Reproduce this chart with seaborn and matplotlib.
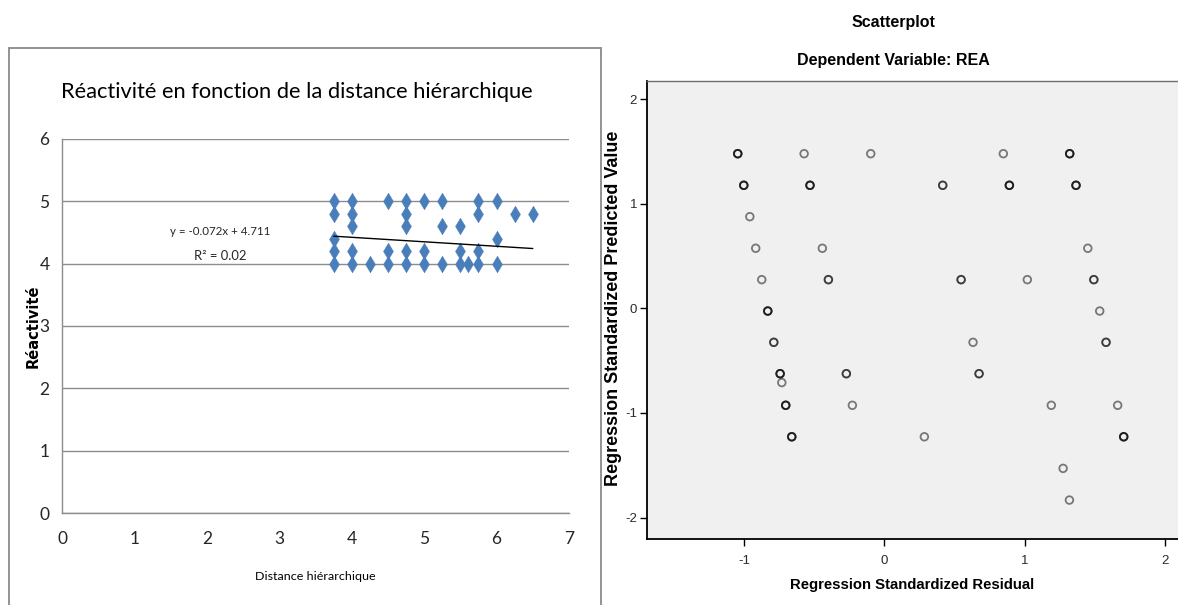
import numpy as np
import pandas as pd
import matplotlib
matplotlib.use("Agg")
import matplotlib.pyplot as plt
from matplotlib.patches import Rectangle
import seaborn as sns

# ---- Left chart: Réactivité vs distance hiérarchique ----
distance = [3.75, 4.0, 4.5, 4.75, 5.0, 5.25, 5.75, 6.0,
            3.75, 4.0, 4.75, 5.75, 6.25, 6.5,
            4.0, 4.75, 5.25, 5.5,
            3.75, 6.0,
            3.75, 4.0, 4.5, 4.75, 5.0, 5.5, 5.75,
            3.75, 4.0, 4.25, 4.5, 4.75, 5.0, 5.25, 5.5, 5.6, 5.75, 6.0]
reactivite = [5.0, 5.0, 5.0, 5.0, 5.0, 5.0, 5.0, 5.0,
              4.8, 4.8, 4.8, 4.8, 4.8, 4.8,
              4.6, 4.6, 4.6, 4.6,
              4.4, 4.4,
              4.2, 4.2, 4.2, 4.2, 4.2, 4.2, 4.2,
              4.0, 4.0, 4.0, 4.0, 4.0, 4.0, 4.0, 4.0, 4.0, 4.0, 4.0]
trend_slope = -0.072
trend_intercept = 4.711
trend_r2 = 0.02
left_xticks = [0, 1, 2, 3, 4, 5, 6, 7]
left_yticks = [0, 1, 2, 3, 4, 5, 6]

# ---- Right chart: SPSS residual scatterplot ----
std_residual = [-1.045, -0.572, -0.097, 0.848, 1.321,
                 -1.002, -0.530, 0.416, 0.891, 1.366,
                 -0.959,
                 -0.917, -0.442, 1.450,
                 -0.874, -0.399, 0.547, 1.019, 1.493,
                 -0.831, 1.535,
                 -0.788, 0.632, 1.580,
                 -0.743, -0.271, 0.675,
                 -0.731,
                 -0.703, -0.228, 1.190, 1.663,
                 -0.660, 0.285, 1.706,
                 1.274, 1.319]
std_predicted = [1.478, 1.478, 1.478, 1.478, 1.478,
                 1.176, 1.176, 1.176, 1.176, 1.176,
                 0.876,
                 0.574, 0.574, 0.574,
                 0.274, 0.274, 0.274, 0.274, 0.274,
                 -0.026, -0.026,
                 -0.325, -0.325, -0.325,
                 -0.625, -0.625, -0.625,
                 -0.710,
                 -0.927, -0.927, -0.927, -0.927,
                 -1.228, -1.228, -1.228,
                 -1.530, -1.833]
# number of cases sitting on each plotted location
n_cases = [3, 1, 1, 1, 3,
           3, 3, 2, 3, 3,
           1,
           1, 1, 1,
           1, 2, 2, 1, 2,
           3, 1,
           2, 1, 2,
           3, 2, 2,
           1,
           3, 1, 1, 1,
           3, 1, 3,
           1, 1]
right_xticks = [-1, 0, 1, 2]
right_yticks = [-2, -1, 0, 1, 2]

sns.set_theme(style="white")
plt.rcParams["font.family"] = ["Lato", "Liberation Sans", "DejaVu Sans"]
plt.rcParams["axes.unicode_minus"] = False

W, H = 1178, 605
fig = plt.figure(figsize=(W / 100, H / 100), dpi=100)
fig.patch.set_facecolor("white")


def fx(px):
    return px / W


def fy(py):
    return 1 - py / H


office = ["Lato", "Liberation Sans", "DejaVu Sans"]
arial = ["Liberation Sans", "DejaVu Sans"]
fitted = []  # (text, target width in px)

# frame around the left chart
fig.patches.append(Rectangle((fx(8.5), fy(640)), fx(592), fy(47.5) - fy(640),
                             transform=fig.transFigure, fill=False,
                             edgecolor="#8a8a8a", linewidth=1.3))

# ---------- left axes ----------
axL = fig.add_axes([fx(62), fy(513), fx(569) - fx(62), fy(139) - fy(513)])
left_df = pd.DataFrame({"distance": distance, "reactivite": reactivite})
sns.scatterplot(data=left_df, x="distance", y="reactivite", ax=axL,
                marker="d", s=72, color="#4A7EBB", edgecolor="#4A7EBB",
                linewidth=0.3, zorder=3)

line_x = np.array([min(distance), max(distance)])
trend_df = pd.DataFrame({"x": line_x, "y": trend_slope * line_x + trend_intercept})
sns.lineplot(data=trend_df, x="x", y="y", ax=axL, color="black",
             linewidth=1.0, zorder=4)

axL.set_xlim(0, 7)
axL.set_ylim(0, 6)
axL.set_xticks(left_xticks)
axL.set_yticks(left_yticks)
axL.yaxis.grid(True, color="#8c8c8c", linewidth=1.0)
axL.xaxis.grid(False)
for side in ["top", "right"]:
    axL.spines[side].set_visible(False)
for side in ["left", "bottom"]:
    axL.spines[side].set_color("#8c8c8c")
    axL.spines[side].set_linewidth(1.0)
axL.tick_params(axis="both", length=0, labelsize=12.5, labelcolor="#262626")
axL.tick_params(axis="x", pad=13)
axL.tick_params(axis="y", pad=9)
for lab in axL.get_xticklabels() + axL.get_yticklabels():
    lab.set_family(office)
axL.set_xlabel("")
axL.set_ylabel("")

t = axL.text(2.18, 4.51, f"y = {trend_slope}x + {trend_intercept}", ha="center",
             va="center", fontsize=10, family=office, color="#262626")
fitted.append((t, 100))
t = axL.text(2.18, 4.12, f"R² = {trend_r2}", ha="center", va="center",
             fontsize=10, family=office, color="#262626")
fitted.append((t, 52))

t = fig.text(fx(297), fy(92), "Réactivité en fonction de la distance hiérarchique",
             ha="center", va="center", fontsize=18, family=office, color="black")
fitted.append((t, 472))
t = fig.text(fx(315), fy(577), "Distance hiérarchique", ha="center", va="center",
             fontsize=10, family=office, color="black")
fitted.append((t, 120))
fig.text(fx(33), fy(326), "Réactivité", ha="center", va="center",
         rotation=90, fontsize=10.5, fontweight="bold",
         family=["DejaVu Sans"], color="black")

# ---------- right axes ----------
axR = fig.add_axes([fx(646.7), fy(539.3), fx(1178) - fx(646.7), fy(81) - fy(539.3)])
axR.set_facecolor("#F0F0F0")
right_df = pd.DataFrame({
    "residual": np.repeat(std_residual, n_cases),
    "predicted": np.repeat(std_predicted, n_cases),
})
sns.scatterplot(data=right_df, x="residual", y="predicted", ax=axR,
                marker="o", s=30, facecolor="none",
                edgecolor=(0, 0, 0, 0.5), linewidth=1.3, zorder=3)
for coll in axR.collections:
    coll.set_facecolor("none")
    coll.set_edgecolor((0, 0, 0, 0.5))

axR.set_xlim(-1.694, 2.093)
axR.set_ylim(-2.208, 2.173)
axR.set_xticks(right_xticks)
axR.set_yticks(right_yticks)
axR.spines["right"].set_visible(False)
axR.spines["top"].set_color("#6e6e6e")
axR.spines["top"].set_linewidth(1.0)
for side in ["left", "bottom"]:
    axR.spines[side].set_color("black")
    axR.spines[side].set_linewidth(1.3)
axR.tick_params(axis="both", direction="out", length=5, width=1.0,
                color="black", labelsize=9.5, labelcolor="#2b2b2b",
                left=True, bottom=True)
axR.tick_params(axis="x", pad=6)
axR.tick_params(axis="y", pad=2)
for lab in axR.get_xticklabels() + axR.get_yticklabels():
    lab.set_family(arial)
axR.set_xlabel("")
axR.set_ylabel("")

t = fig.text(fx(893), fy(22), "Scatterplot", ha="center", va="center",
             fontsize=11.5, fontweight="bold", family=arial, color="black")
fitted.append((t, 84))
t = fig.text(fx(893), fy(61), "Dependent Variable: REA", ha="center", va="center",
             fontsize=12, fontweight="bold", family=arial, color="black")
fitted.append((t, 192))
t = fig.text(fx(912), fy(585), "Regression Standardized Residual", ha="center",
             va="center", fontsize=11, fontweight="bold", family=arial, color="black")
fitted.append((t, 245))
fig.text(fx(614), fy(308), "Regression Standardized Predicted Value",
         ha="center", va="center", rotation=90, fontsize=13,
         fontweight="bold", family=arial, color="black")

# scale horizontal texts so each one spans its intended width
fig.canvas.draw()
renderer = fig.canvas.get_renderer()
for txt, target in fitted:
    width = txt.get_window_extent(renderer).width
    txt.set_fontsize(txt.get_fontsize() * target / width)

fig.savefig("out.png", dpi=100)
